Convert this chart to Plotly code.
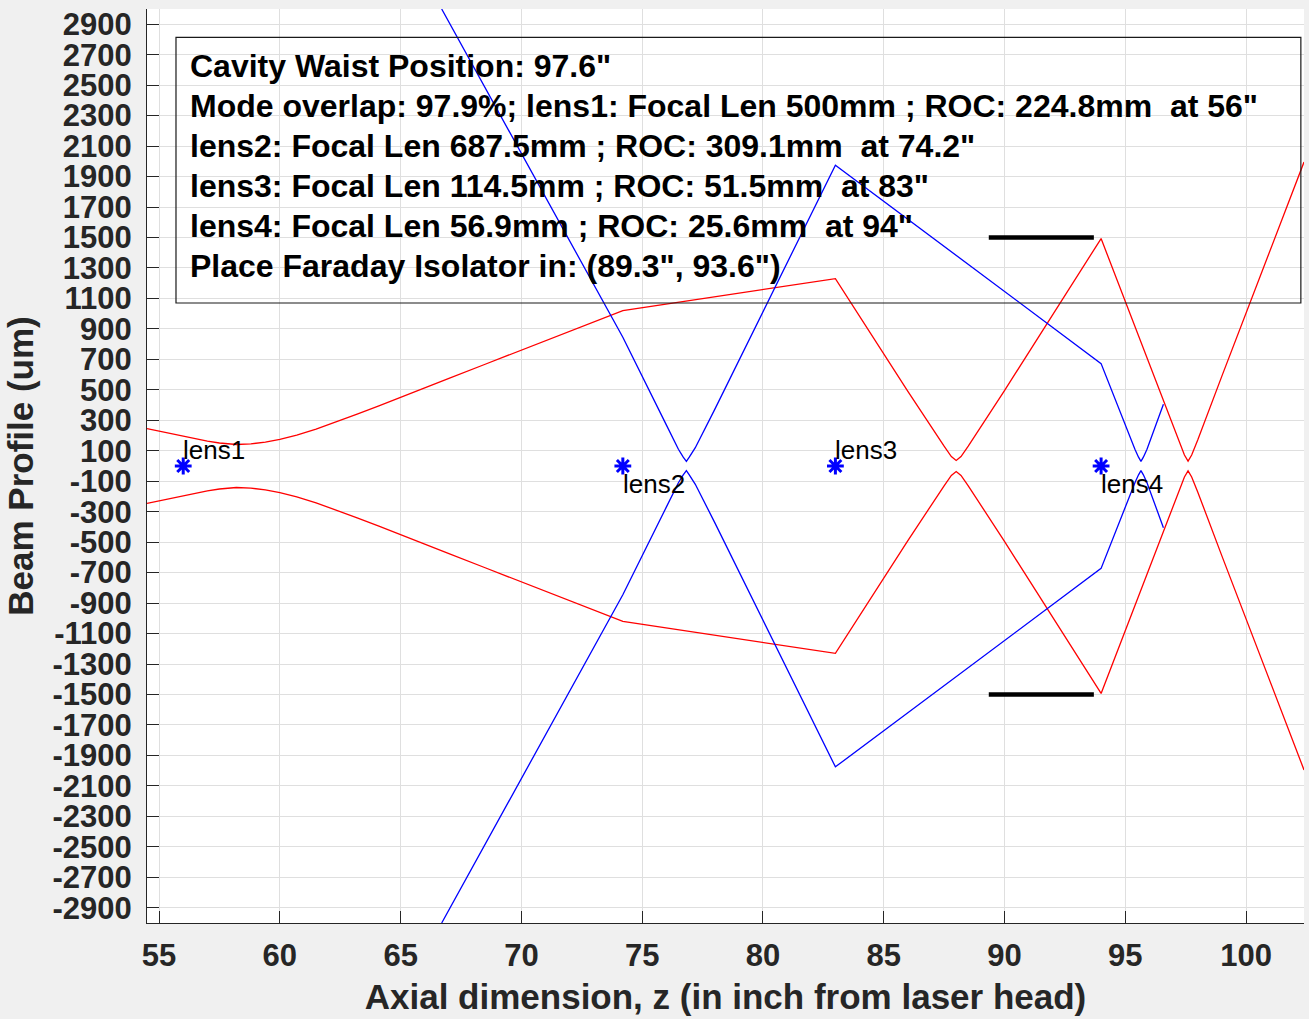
import plotly.graph_objects as go

# ---------------- data ----------------
# Red beam (laser beam), upper envelope; lower envelope is its mirror
red_z = [54.5, 55.0, 55.5, 56.0, 56.5, 57.0, 57.5, 58.2, 58.8, 59.4, 60.0, 60.7,
         61.5, 62.3, 63.2, 64.1, 65.0, 66.0, 67.0, 68.5, 70.0, 72.0, 74.2,
         83.0, 86.0, 87.5, 87.8, 88.0, 88.2, 88.5, 90.0,
         94.0, 96.5, 97.2, 97.45, 97.6, 97.75, 98.0, 99.0, 102.4]
red_w = [245, 228, 210, 193, 177, 163, 151, 141, 145, 157, 175, 203,
         242, 287, 340, 395, 452, 513, 575, 668, 762, 885, 1020,
         1230, 490, 130, 62, 36, 62, 130, 495,
         1493, 455, 170, 72, 32, 72, 170, 590, 1995]

# Blue beam (cavity mode propagated back), upper envelope
blue_z = [66.7, 74.2, 76.0, 76.5, 76.7, 76.83, 76.95, 77.2, 78.0, 83.0,
          94.0, 95.0, 95.4, 95.55, 95.65, 95.75, 95.9, 96.58]
blue_w = [3000, 845, 270, 110, 58, 30, 58, 120, 370, 1975,
          672, 265, 110, 58, 30, 58, 110, 405]

# Lens positions (inch) and labels
lens_z = [56.0, 74.2, 83.0, 94.0]
lens_names = ["lens1", "lens2", "lens3", "lens4"]
lens_label_w = [105, -120, 105, -120]

# Faraday isolator window (inch) and its half-aperture (um)
faraday_z = [89.35, 93.7]
faraday_w = 1500

x_ticks = [55, 60, 65, 70, 75, 80, 85, 90, 95, 100]
y_ticks = [-2900, -2700, -2500, -2300, -2100, -1900, -1700, -1500, -1300, -1100,
           -900, -700, -500, -300, -100, 100, 300, 500, 700, 900,
           1100, 1300, 1500, 1700, 1900, 2100, 2300, 2500, 2700, 2900]
y_tick_text = [str(v) for v in y_ticks]

info_lines = [
    "Cavity Waist Position: 97.6\"",
    "Mode overlap: 97.9%; lens1: Focal Len 500mm ; ROC: 224.8mm\u00a0 at 56\"",
    "lens2: Focal Len 687.5mm ; ROC: 309.1mm\u00a0 at 74.2\"",
    "lens3: Focal Len 114.5mm ; ROC: 51.5mm\u00a0 at 83\"",
    "lens4: Focal Len 56.9mm ; ROC: 25.6mm\u00a0 at 94\"",
    "Place Faraday Isolator in: (89.3\", 93.6\")",
]

FONT = "Liberation Sans, Arial, Helvetica, sans-serif"
AX = "#262626"

# plot-area geometry (pixels) used to place the info box
PLOT_TOP, PLOT_H = 9, 914
Y_RANGE = (-3000, 3000)


def px_to_w(py):
    return Y_RANGE[1] - (py - PLOT_TOP) * (Y_RANGE[1] - Y_RANGE[0]) / PLOT_H


fig = go.Figure()

for w_sign in (1, -1):
    fig.add_trace(go.Scatter(x=red_z, y=[w_sign * v for v in red_w], mode="lines",
                             line=dict(color="#ff0000", width=1.3), showlegend=False,
                             hoverinfo="skip"))
for w_sign in (1, -1):
    fig.add_trace(go.Scatter(x=blue_z, y=[w_sign * v for v in blue_w], mode="lines",
                             line=dict(color="#0000ff", width=1.3), showlegend=False,
                             hoverinfo="skip"))

fig.add_trace(go.Scatter(x=lens_z, y=[0] * len(lens_z), mode="markers",
                         marker=dict(symbol="asterisk-open", size=14, color="#0000ff",
                                     line=dict(color="#0000ff", width=3)),
                         showlegend=False))

for w_sign in (1, -1):
    fig.add_trace(go.Scatter(x=faraday_z, y=[w_sign * faraday_w] * 2, mode="lines",
                             line=dict(color="black", width=4.5), showlegend=False))

for z, name, wl in zip(lens_z, lens_names, lens_label_w):
    fig.add_annotation(x=z, y=wl, text=name, showarrow=False, xanchor="left",
                       yanchor="middle", xshift=-2,
                       font=dict(family=FONT, size=26, color="black"))

# info box
fig.add_shape(type="rect", x0=55.70, x1=102.27, y0=px_to_w(303), y1=px_to_w(37.3),
              line=dict(color="#1a1a1a", width=1.2), fillcolor="rgba(0,0,0,0)")
INFO_SIZE = 32
for i, line in enumerate(info_lines):
    baseline = 77.5 + 40 * i
    fig.add_annotation(x=56.21, y=px_to_w(baseline - INFO_SIZE), text=line,
                       showarrow=False, xanchor="left", yanchor="top", align="left",
                       font=dict(family=FONT, size=INFO_SIZE, color="black",
                                 weight="bold"))

fig.update_layout(
    width=1309, height=1019,
    margin=dict(l=147, r=5, t=9, b=96),
    paper_bgcolor="#f0f0f0", plot_bgcolor="white",
    font=dict(family=FONT, color=AX),
    xaxis=dict(range=[54.5, 102.4], tickvals=x_ticks, ticks="inside", ticklen=12,
               tickcolor=AX, showline=True, linecolor=AX, linewidth=1,
               showgrid=True, gridcolor="#dfdfdf", zeroline=False,
               ticklabelstandoff=5,
               tickfont=dict(family=FONT, size=31, color=AX, weight="bold"),
               title=dict(text="Axial dimension, z (in inch from laser head)",
                          font=dict(family=FONT, size=35, color=AX, weight="bold"),
                          standoff=12)),
    yaxis=dict(range=list(Y_RANGE), tickvals=y_ticks, ticktext=y_tick_text,
               ticks="inside", ticklen=12, tickcolor=AX, showline=True,
               linecolor=AX, linewidth=1, showgrid=True, gridcolor="#dfdfdf",
               zeroline=False, ticklabelstandoff=8,
               tickfont=dict(family=FONT, size=31, color=AX, weight="bold"),
               title=dict(text="Beam Profile (um)",
                          font=dict(family=FONT, size=35, color=AX, weight="bold"),
                          standoff=8)),
)

fig.write_html("out.html",
               config={"displayModeBar": False},
               post_script="document.body.style.margin='0px';"
                           "document.body.style.overflow='hidden';")
